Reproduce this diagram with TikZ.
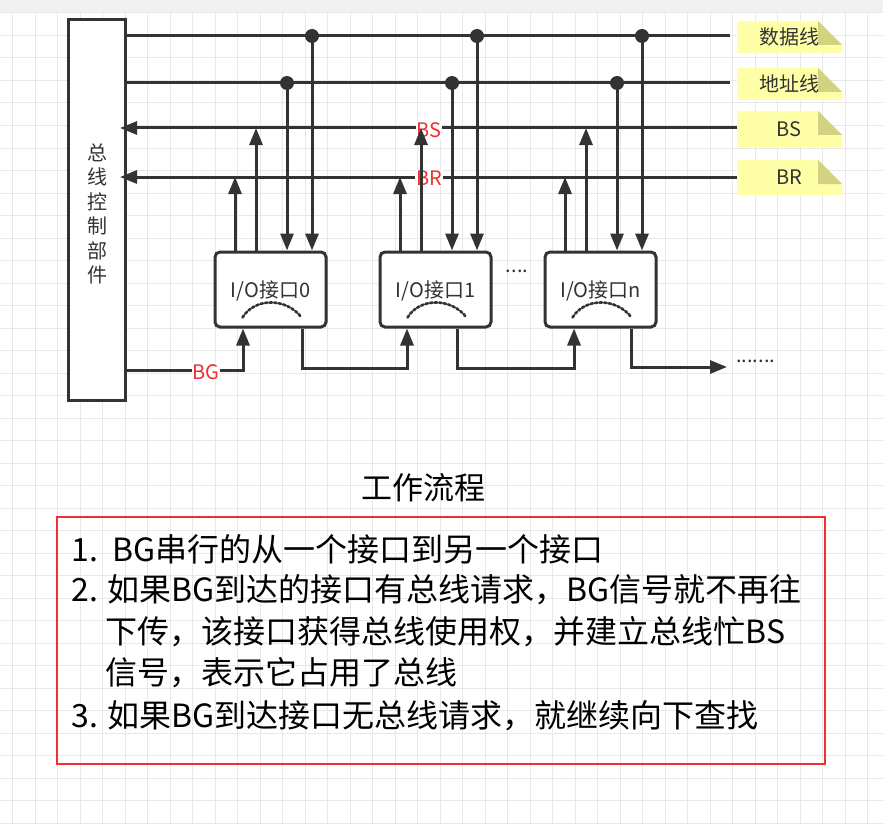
\documentclass[tikz,border=0pt]{standalone}
\usepackage{fontspec}
\setmainfont{Noto Sans CJK SC}
\usetikzlibrary{arrows.meta}
\definecolor{ink}{HTML}{333333}
\definecolor{noteY}{HTML}{FFFFA8}
\definecolor{noteD}{HTML}{D2D280}
\definecolor{redT}{HTML}{F03030}
\begin{document}
\begin{tikzpicture}[x=1pt,y=-1pt,
  wire/.style={draw=ink,line width=3pt},
  arr/.style={wire,-{Triangle[length=17pt,width=13pt]}},
  iobox/.style={draw=ink,line width=3pt,rounded corners=5pt,fill=white,minimum width=111pt,minimum height=75pt,inner sep=0pt},
  lbl/.style={text=ink,font=\fontsize{20}{24}\selectfont},
  redlbl/.style={text=redT,fill=white,inner sep=1pt,font=\fontsize{20}{24}\selectfont},
  dot/.style={circle,fill=ink,minimum size=14pt,inner sep=0pt},
  flow/.style={font=\fontsize{32}{36}\selectfont,text=black,anchor=west}]
\useasboundingbox (0,0) rectangle (883,824);
\fill[white] (0,0) rectangle (883,824);
\fill[black!6] (0,0) rectangle (883,13);
\foreach \i in {0,...,40} {\draw[black!9,line width=1pt] (\i*22.5-10,13) -- (\i*22.5-10,824);}
\foreach \i in {0,...,36} {\draw[black!9,line width=1pt] (0,13+\i*22.5) -- (883,13+\i*22.5);}
% bus control
\node[draw=ink,line width=3pt,fill=white,minimum width=57pt,minimum height=380pt,inner sep=0pt] (ctl) at (96.5,210) {};
\node[lbl,align=center,text width=22pt,font=\fontsize{20}{24.5}\selectfont] (ctltxt) at (97,214) {总\\线\\控\\制\\部\\件};
% notes
\foreach \n/\y/\h/\t in {nd/21/32/数据线,na/68/32/地址线,ns/111/36/BS,nr/160/35/BR}{
  \fill[noteY] (737,\y) -- (818,\y) -- (842,\y+24) -- (842,\y+\h) -- (737,\y+\h) -- cycle;
  \fill[noteD] (818,\y) -- (842,\y+24) -- (818,\y+24) -- cycle;
  \node[lbl,anchor=center] (\n) at (789,\y+\h/2) {\t};
}
\coordinate (dE) at (730,36); \coordinate (aE) at (730,83);
\coordinate (sE) at (737,128); \coordinate (rE) at (737,177);
\coordinate (sL) at (120,128); \coordinate (rL) at (120,177);
\draw[wire] (ctl.east |- dE) -- (dE);
\draw[wire] (ctl.east |- aE) -- (aE);
\draw[arr] (sE) -- (sL);
\draw[arr] (rE) -- (rL);
\node[redlbl] (bsl) at (429,130) {BS};
\node[redlbl] (brl) at (429,178) {BR};
% boxes
\node[iobox] (b0) at (270.5,289.5) {};
\node[iobox] (b1) at (435.5,289.5) {};
\node[iobox] (bn) at (600.5,289.5) {};
\foreach \b/\t in {b0/{I/O接口0},b1/{I/O接口1},bn/{I/O接口n}}{
  \node[lbl] (\b t) at ([yshift=-1pt]\b.center) {\t};
  \draw[ink,line width=2.6pt,dotted,line cap=round] ([xshift=-28pt,yshift=-28pt]\b.center) .. controls ([xshift=-16pt,yshift=-8pt]\b.center) and ([xshift=16pt,yshift=-8pt]\b.center) .. ([xshift=31pt,yshift=-28pt]\b.center);
}
\foreach \b/\o in {b0/0,b1/165,bn/330}{
  \node[dot] (dd\b) at (312+\o,36) {};
  \node[dot] (ad\b) at (287+\o,83) {};
  \draw[arr] (dd\b.center) -- (dd\b.center |- \b.north);
  \draw[arr] (ad\b.center) -- (ad\b.center |- \b.north);
  \coordinate (rr\b) at (235+\o,177);
  \coordinate (ss\b) at (256+\o,128);
  \draw[arr] (rr\b |- \b.north) -- (rr\b);
  \draw[arr] (ss\b |- \b.north) -- (ss\b);
}
% BG chain
\coordinate (g0) at (243,370);
\draw[arr] (ctl.east |- g0) -- (g0) -- (g0 |- b0.south);
\node[redlbl] (bgl) at (206,372) {BG};
\coordinate (c0) at (302,368); \coordinate (c0e) at (407,368);
\draw[arr] (c0 |- b0.south) -- (c0) -- (c0e) -- (c0e |- b1.south);
\coordinate (c1) at (457,368); \coordinate (c1e) at (574,368);
\draw[arr] (c1 |- b1.south) -- (c1) -- (c1e) -- (c1e |- bn.south);
\coordinate (c2) at (631,367); \coordinate (c2e) at (727,367);
\draw[arr] (c2 |- bn.south) -- (c2) -- (c2e);
\node[lbl,anchor=west,inner sep=0pt] (dots1) at (736,361) {.......};
\node[lbl,inner sep=0pt] (dots2) at (517,271) {....};
% flow
\node[font=\fontsize{31}{36}\selectfont] (title) at (423,488) {工作流程};
\node[draw=redT,line width=1.5pt,minimum width=768pt,minimum height=247pt,inner sep=0pt] (frame) at (441,640.5) {};
\node[flow] (l1) at (68,549) {1.\ \ BG串行的从一个接口到另一个接口};
\node[flow] (l2) at (68,590) {2. 如果BG到达的接口有总线请求，BG信号就不再往};
\node[flow] (l3) at (102,632) {下传，该接口获得总线使用权，并建立总线忙BS};
\node[flow] (l4) at (102,673) {信号，表示它占用了总线};
\node[flow] (l5) at (68,716) {3. 如果BG到达接口无总线请求，就继续向下查找};
\end{tikzpicture}
\end{document}
